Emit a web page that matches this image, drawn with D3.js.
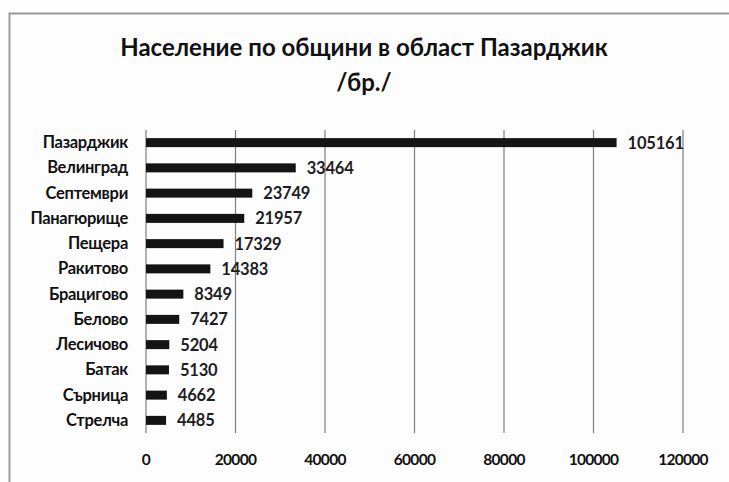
<!DOCTYPE html>
<html><head><meta charset="utf-8">
<script src="https://cdn.jsdelivr.net/npm/d3@7/dist/d3.min.js"></script>
<style>body{margin:0;background:#fff;}svg{display:block;font-family:Lato,"Open Sans",sans-serif;}</style>
</head><body>
<script>
const categories = ["Пазарджик","Велинград","Септември","Панагюрище","Пещера","Ракитово","Брацигово","Белово","Лесичово","Батак","Сърница","Стрелча"];
const values = [105161,33464,23749,21957,17329,14383,8349,7427,5204,5130,4662,4485];
const ticks = [0,20000,40000,60000,80000,100000,120000];
const titleLines = ["Население по общини в област Пазарджик","/бр./"];

const W=729,H=482;
const svg=d3.select("body").append("svg").attr("width",W).attr("height",H);
svg.append("rect").attr("width",W).attr("height",H).attr("fill","#fdfdfe");
// frame
svg.append("path").attr("d",`M9.5,${H} V13.5 H${W}`).attr("fill","none").attr("stroke","#9a9a9a").attr("stroke-width",2);

const x=d3.scaleLinear().domain([0,120000]).range([146,683]);
const y=d3.scaleBand().domain(categories).range([130,433]);

// gridlines
svg.append("g").selectAll("line").data(ticks).join("line")
 .attr("x1",d=>x(d)).attr("x2",d=>x(d)).attr("y1",130).attr("y2",433)
 .attr("stroke","#7e7e7e").attr("stroke-width",1.2);

// axis labels
svg.append("g").selectAll("text").data(ticks).join("text")
 .attr("x",d=>x(d)).attr("y",465).attr("text-anchor","middle")
 .attr("font-size",15.5).attr("font-weight","bold").attr("fill","#111").attr("letter-spacing","-0.7")
 .text(d=>d);

// bars
svg.append("g").selectAll("rect").data(values).join("rect")
 .attr("x",x(0)).attr("y",(d,i)=>y(categories[i])+y.bandwidth()/2-4.5)
 .attr("width",d=>x(d)-x(0)).attr("height",9).attr("fill","#141414");

// value labels
svg.append("g").selectAll("text").data(values).join("text")
 .attr("x",d=>x(d)+11).attr("y",(d,i)=>y(categories[i])+y.bandwidth()/2+6)
 .attr("font-size",16.5).attr("font-weight","bold").attr("fill","#1e1e1e").attr("letter-spacing","-0.2")
 .text(d=>d);

// category labels
svg.append("g").selectAll("text").data(categories).join("text")
 .attr("x",128).attr("y",d=>y(d)+y.bandwidth()/2+5.5)
 .attr("text-anchor","end")
 .attr("font-size",16.5).attr("font-weight","bold").attr("fill","#111").attr("letter-spacing","-0.3")
 .text(d=>d);

// title
svg.append("g").selectAll("text").data(titleLines).join("text")
 .attr("x",364).attr("y",(d,i)=>56+i*35).attr("text-anchor","middle")
 .attr("font-size",24).attr("font-weight","bold").attr("fill","#111")
 .text(d=>d);
</script>
</body></html>
